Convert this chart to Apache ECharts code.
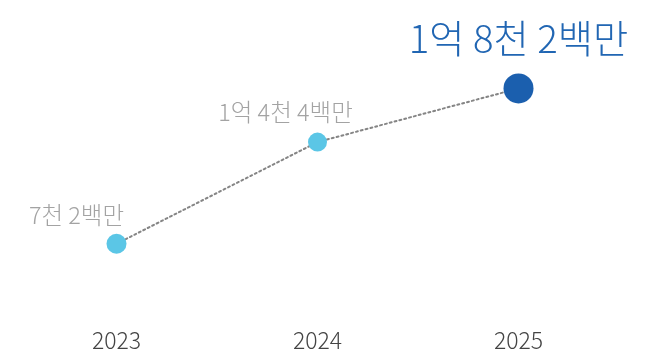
<!DOCTYPE html>
<html>
<head>
<meta charset="utf-8">
<script src="https://cdn.jsdelivr.net/npm/echarts@6/dist/echarts.min.js"></script>
<style>
  html, body { margin: 0; padding: 0; background: #ffffff; }
  #chart { width: 666px; height: 354px; }
</style>
</head>
<body>
<div id="chart"></div>
<script>
// Annual totals, in millions (백만)
const years = ['2023', '2024', '2025'];
const values = [72, 144, 182];
const valueLabels = ['7천 2백만', '1억 4천 4백만', '1억 8천 2백만'];

const FONT = '"Noto Sans CJK KR", "Noto Sans", sans-serif';

// Per-point styling: earlier years muted, latest year emphasised
const pointStyles = [
  { size: 20, color: '#5bc6e6', labelColor: '#a3a3a3', labelSize: 23.5, offset: [-40, -29] },
  { size: 19, color: '#5bc6e6', labelColor: '#a3a3a3', labelSize: 23.5, offset: [-32, -30] },
  { size: 30, color: '#1b5fae', labelColor: '#2166b3', labelSize: 38.3, offset: [0, -50] }
];

const seriesData = values.map((v, i) => {
  const s = pointStyles[i];
  return {
    value: v,
    symbolSize: s.size,
    itemStyle: { color: s.color },
    label: {
      show: true,
      formatter: valueLabels[i],
      position: 'inside',
      offset: s.offset,
      color: s.labelColor,
      fontSize: s.labelSize,
      fontWeight: 300,
      fontFamily: FONT
    }
  };
});

const chart = echarts.init(document.getElementById('chart'), null, { renderer: 'canvas' });
chart.setOption({
  animation: false,
  backgroundColor: '#ffffff',
  grid: { left: 16, right: 47, top: 63, bottom: 65 },
  xAxis: {
    type: 'category',
    data: years,
    boundaryGap: true,
    axisLine: { show: false },
    axisTick: { show: false },
    splitLine: { show: false },
    axisLabel: {
      margin: 40,
      color: '#444444',
      fontSize: 23,
      fontWeight: 300,
      fontFamily: FONT
    }
  },
  yAxis: {
    type: 'value',
    min: 40,
    max: 200,
    show: false
  },
  series: [{
    type: 'line',
    data: seriesData,
    symbol: 'circle',
    showAllSymbol: true,
    lineStyle: { color: '#858585', width: 2, type: [2, 3], cap: 'round' },
    z: 2
  }]
});
</script>
</body>
</html>
